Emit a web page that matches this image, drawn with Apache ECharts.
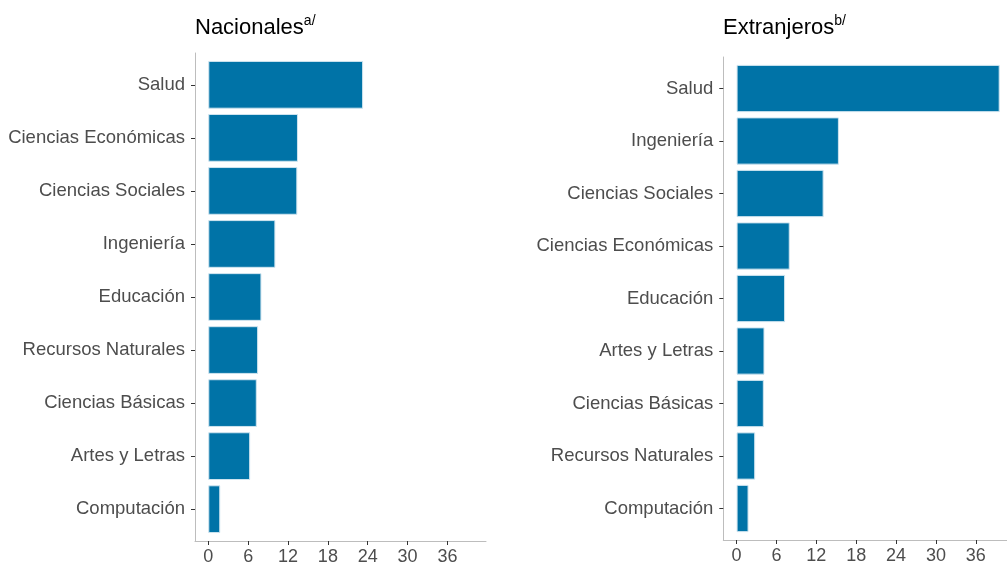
<!DOCTYPE html>
<html><head><meta charset="utf-8">
<script src="https://cdn.jsdelivr.net/npm/echarts@6/dist/echarts.min.js"></script>
<style>html,body{margin:0;padding:0;background:#fff;overflow:hidden}#c{width:1024px;height:566px}</style>
</head>
<body><div id="c"></div>
<script>
const natCategories = ['Salud','Ciencias Económicas','Ciencias Sociales','Ingeniería','Educación','Recursos Naturales','Ciencias Básicas','Artes y Letras','Computación'];
const natValues = [23.3, 13.5, 13.4, 10.1, 8.0, 7.5, 7.3, 6.3, 1.8];
const extCategories = ['Salud','Ingeniería','Ciencias Sociales','Ciencias Económicas','Educación','Artes y Letras','Ciencias Básicas','Recursos Naturales','Computación'];
const extValues = [39.6, 15.4, 13.1, 8.0, 7.3, 4.2, 4.1, 2.8, 1.8];
const xTickValues = [0, 6, 12, 18, 24, 30, 36];
const panelTitles = ['Nacionales', 'Extranjeros'];
const titleNotes = ['a/', 'b/'];

const FONT = '"Liberation Sans", Arial, sans-serif';
const X_MIN = -2, X_MAX = 41.8;
const BAR = '#0073A7';
const AXIS_LINE = '#bdbdbd';
const TICK = '#333333';
const LABEL = '#4d4d4d';

const chart = echarts.init(document.getElementById('c'), null, {renderer: 'canvas'});

function frameX(gi) {
  return {
    type: 'value', gridIndex: gi, min: X_MIN, max: X_MAX,
    axisLine: {show: true, onZero: false, lineStyle: {color: AXIS_LINE, width: 1}},
    axisTick: {show: true, length: 4, customValues: xTickValues, lineStyle: {color: TICK, width: 1}},
    axisLabel: {show: true, customValues: xTickValues, margin: 7, fontSize: 18, color: LABEL, fontFamily: FONT},
    splitLine: {show: false}
  };
}
function innerX(gi) {
  return {type: 'value', gridIndex: gi, min: X_MIN, max: X_MAX, show: false, splitLine: {show: false}};
}
function frameY(gi, cats) {
  return {
    type: 'category', gridIndex: gi, data: cats, inverse: true,
    axisLine: {show: true, onZero: false, lineStyle: {color: AXIS_LINE, width: 1}},
    axisTick: {show: false}, axisLabel: {show: false}, splitLine: {show: false}
  };
}
function innerY(gi, cats) {
  return {
    type: 'category', gridIndex: gi, data: cats, inverse: true,
    axisLine: {show: false, onZero: false},
    axisTick: {show: true, length: 4, alignWithLabel: true, lineStyle: {color: TICK, width: 1}},
    axisLabel: {show: true, margin: 10, fontSize: 18.5, color: LABEL, fontFamily: FONT},
    splitLine: {show: false}
  };
}
function titleOf(i, left) {
  return {
    text: '{t|' + panelTitles[i] + '}{s|' + titleNotes[i] + '}',
    left: left, top: 14, padding: 0,
    textStyle: {
      fontWeight: 'normal',
      rich: {
        t: {fontSize: 22, color: '#000', fontFamily: FONT, fontWeight: 'normal', lineHeight: 28},
        s: {fontSize: 14, color: '#000', fontFamily: FONT, fontWeight: 'normal', lineHeight: 14, verticalAlign: 'top'}
      }
    }
  };
}

chart.setOption({
  animation: false,
  backgroundColor: '#ffffff',
  title: [titleOf(0, 195), titleOf(1, 723)],
  grid: [
    {left: 195, top: 53, width: 291, height: 488},
    {left: 195, top: 58.3, width: 291, height: 477.4},
    {left: 723.3, top: 57, width: 291, height: 483},
    {left: 723.3, top: 62.25, width: 291, height: 472.5}
  ],
  xAxis: [frameX(0), innerX(1), frameX(2), innerX(3)],
  yAxis: [frameY(0, natCategories), innerY(1, natCategories), frameY(2, extCategories), innerY(3, extCategories)],
  series: [
    {type: 'bar', xAxisIndex: 1, yAxisIndex: 1, data: natValues, barWidth: '90%',
     itemStyle: {color: BAR, borderColor: '#cfe4ef', borderWidth: 1}},
    {type: 'bar', xAxisIndex: 3, yAxisIndex: 3, data: extValues, barWidth: '90%',
     itemStyle: {color: BAR, borderColor: '#cfe4ef', borderWidth: 1}}
  ]
});
</script>
</body></html>
